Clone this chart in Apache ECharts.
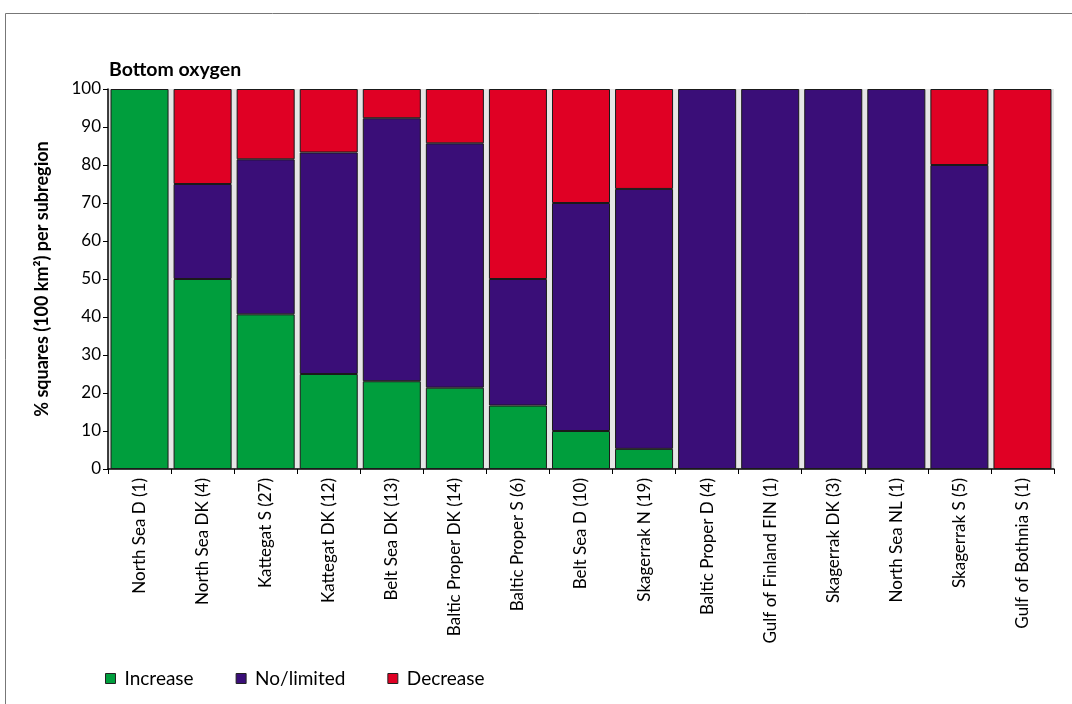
<!DOCTYPE html>
<html><head><meta charset="utf-8">
<script src="https://cdn.jsdelivr.net/npm/echarts@6/dist/echarts.min.js"></script>
<style>html,body{margin:0;padding:0;background:#fff}#c{width:1072px;height:704px}</style>
</head><body><div id="c"></div>
<script>
const categories = ["North Sea D (1)","North Sea DK (4)","Kattegat S (27)","Kattegat DK (12)","Belt Sea DK (13)","Baltic Proper DK (14)","Baltic Proper S (6)","Belt Sea D (10)","Skagerrak N (19)","Baltic Proper D (4)","Gulf of Finland FIN (1)","Skagerrak DK (3)","North Sea NL (1)","Skagerrak S (5)","Gulf of Bothnia S (1)"];
const increase  = [100, 50, 40.7, 25, 23.1, 21.4, 16.7, 10, 5.3, null, null, null, null, null, null];
const noLimited = [null, 25, 40.8, 58.3, 69.2, 64.3, 33.3, 60, 68.4, 100, 100, 100, 100, 80, null];
const decrease  = [null, 25, 18.5, 16.7, 7.7, 14.3, 50, 30, 26.3, null, null, null, null, 20, 100];
const yTicks = [0, 10, 20, 30, 40, 50, 60, 70, 80, 90, 100];

const FONT = 'Lato';
const chart = echarts.init(document.getElementById('c'));
const mk = (name, data, color) => ({
  name, type: 'bar', stack: 'a', data, barCategoryGap: '8%',
  itemStyle: { color, borderColor: '#1a1a1a', borderWidth: 1 }
});
chart.setOption({
  animation: false,
  textStyle: { fontFamily: FONT },
  graphic: [{ type: 'rect', shape: { x: 5.5, y: 13.5, width: 1200, height: 800 },
    style: { fill: 'none', stroke: '#777', lineWidth: 1 }, silent: true }],
  title: { text: 'Bottom oxygen', left: 104, top: 55,
    textStyle: { fontFamily: FONT, fontSize: 19.5, fontWeight: 'bold', color: '#000' } },
  grid: { left: 108, right: 18, top: 89, bottom: 235, show: true, backgroundColor: '#e6e6e6', borderWidth: 0 },
  legend: { left: 100, top: 664, itemWidth: 10, itemHeight: 10, itemGap: 42,
    icon: 'rect',
    itemStyle: { borderColor: '#222', borderWidth: 1 },
    textStyle: { fontFamily: FONT, fontSize: 19, color: '#000', padding: [0, 0, 0, 4] },
    data: ['Increase', 'No/limited', 'Decrease'] },
  xAxis: { type: 'category', data: categories,
    axisLine: { lineStyle: { color: '#000', width: 1.5 } },
    axisTick: { show: true, length: 5, lineStyle: { color: '#000' } },
    axisLabel: { rotate: 90, fontFamily: FONT, fontSize: 17, color: '#000', margin: 9, interval: 0 } },
  yAxis: { type: 'value', min: 0, max: 100, interval: 10,
    name: '% squares (100 km²) per subregion', nameLocation: 'middle', nameRotate: 90, nameGap: 57,
    nameTextStyle: { fontFamily: FONT, fontSize: 18, fontWeight: 'bold', color: '#000' },
    axisLine: { show: true, lineStyle: { color: '#000', width: 1.5 } },
    axisTick: { show: true, length: 5, lineStyle: { color: '#000' } },
    splitLine: { show: false },
    axisLabel: { fontFamily: FONT, fontSize: 17, color: '#000', margin: 7,
      customValues: yTicks } },
  series: [
    mk('Increase', increase, '#009e3d'),
    mk('No/limited', noLimited, '#3a0e78'),
    mk('Decrease', decrease, '#e00024')
  ]
});
</script></body></html>
